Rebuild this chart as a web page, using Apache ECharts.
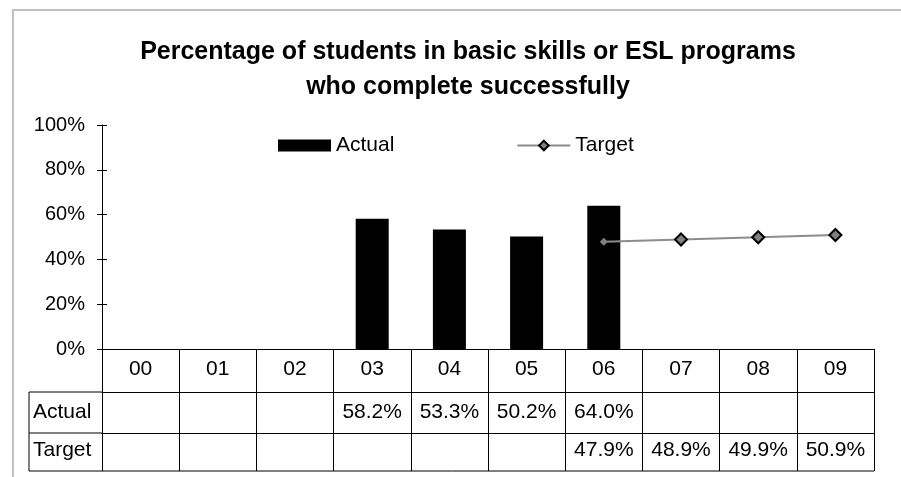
<!DOCTYPE html>
<html>
<head>
<meta charset="utf-8">
<script src="https://cdn.jsdelivr.net/npm/echarts@6/dist/echarts.min.js"></script>
<style>
  html, body { margin: 0; padding: 0; background: #fff; }
  #main { width: 901px; height: 477px; }
</style>
</head>
<body>
<div id="main"></div>
<script>
// data
var categories = ['00', '01', '02', '03', '04', '05', '06', '07', '08', '09'];
var actualValues = [null, null, null, 58.2, 53.3, 50.2, 64.0, null, null, null];
var targetValues = [null, null, null, null, null, null, 47.9, 48.9, 49.9, 50.9];
var rowNames = ['Actual', 'Target'];

var FONT = "'Liberation Sans', Arial, sans-serif";

// layout of the table under the plot
var axisY = 349;      // y of the 0% line
var row1Y = 392;      // top of Actual row
var row2Y = 433;      // top of Target row
var tableBottom = 471;
var headLeft = 29;
var plotLeft = 102;
var plotRight = 874;

function fmt(v){
    return v == null ? '' : v.toFixed(1) + '%';
}

// first target point is drawn small and without border
var targetData = targetValues.map(function(v, i){
    if (v == null) return null;
    if (i == 6) {
        return {value: v, symbolSize: 8, itemStyle: {borderWidth: 0, color: '#808080'}};
    }
    return v;
});

// one table row = one extra category axis pushed down with offset
function tableAxis(offset, rowHeight, margin, values){
    return {
        type: 'category',
        data: categories,
        position: 'bottom',
        offset: offset,
        axisLine: {show: true, onZero: false, lineStyle: {color: '#000', width: 1}},
        axisTick: {show: true, length: rowHeight, interval: 0, lineStyle: {color: '#000'}},
        axisLabel: {
            interval: 0, margin: margin, fontFamily: FONT, fontSize: 21, color: '#000',
            formatter: function(value, index){
                return values ? fmt(values[index]) : value;
            }
        }
    };
}

var myChart = echarts.init(document.getElementById('main'));

var option = {
    animation: false,
    backgroundColor: '#fff',
    title: {
        text: 'Percentage of students in basic skills or ESL programs\nwho complete successfully',
        left: 463,
        top: 30,
        textAlign: 'center',
        textStyle: {
            fontFamily: FONT,
            fontSize: 25,
            fontWeight: 'bold',
            color: '#000',
            lineHeight: 35
        }
    },
    legend: {
        left: 273,
        top: 130,
        itemWidth: 53,
        itemHeight: 12,
        itemGap: 122,
        textStyle: {fontFamily: FONT, fontSize: 21, color: '#000'},
        data: [
            {name: 'Actual', icon: 'rect'},
            {name: 'Target'}
        ]
    },
    grid: {
        left: plotLeft,
        right: 901 - plotRight,
        top: 125,
        bottom: 477 - axisY,
        containLabel: false
    },
    xAxis: [
        tableAxis(0, row1Y - axisY, 10, null),
        tableAxis(row1Y - axisY, row2Y - row1Y, 10, actualValues),
        tableAxis(row2Y - axisY, tableBottom - row2Y, 7, targetValues)
    ],
    yAxis: [{
        type: 'value',
        min: 0,
        max: 100,
        interval: 20,
        axisLine: {show: true, lineStyle: {color: '#000', width: 1}},
        axisTick: {show: true, length: 5, lineStyle: {color: '#000'}},
        axisLabel: {margin: 17, fontFamily: FONT, fontSize: 20, color: '#000', formatter: '{value}%'},
        splitLine: {show: false}
    }, {
        // inner half of the crossing ticks
        type: 'value',
        min: 0,
        max: 100,
        interval: 20,
        position: 'left',
        axisLine: {show: false},
        axisTick: {show: true, inside: true, length: 5, lineStyle: {color: '#000'}},
        axisLabel: {show: false},
        splitLine: {show: false}
    }],
    series: [{
        name: 'Actual',
        type: 'bar',
        data: actualValues,
        barWidth: 33,
        itemStyle: {color: '#000'}
    }, {
        name: 'Target',
        type: 'line',
        data: targetData,
        symbol: 'diamond',
        symbolSize: 12,
        showAllSymbol: true,
        lineStyle: {color: '#8c8c8c', width: 2},
        itemStyle: {color: '#808080', borderColor: '#000', borderWidth: 2}
    }],
    graphic: [
        // chart frame
        {type: 'rect', shape: {x: 13, y: 10, width: 920, height: 500},
         style: {fill: null, stroke: '#c0c0c0', lineWidth: 2}, silent: true},
        // row header column of the table
        {type: 'line', shape: {x1: headLeft, y1: row1Y, x2: plotLeft, y2: row1Y}, style: {stroke: '#000', lineWidth: 1}},
        {type: 'line', shape: {x1: headLeft, y1: row2Y, x2: plotLeft, y2: row2Y}, style: {stroke: '#000', lineWidth: 1}},
        {type: 'line', shape: {x1: headLeft, y1: tableBottom, x2: plotRight, y2: tableBottom}, style: {stroke: '#000', lineWidth: 1}},
        {type: 'line', shape: {x1: headLeft, y1: row1Y, x2: headLeft, y2: tableBottom}, style: {stroke: '#000', lineWidth: 1}},
        {type: 'text', left: 33, top: 402,
         style: {text: rowNames[0], font: '21px ' + FONT, fill: '#000'}},
        {type: 'text', left: 33, top: 440,
         style: {text: rowNames[1], font: '21px ' + FONT, fill: '#000'}}
    ]
};

myChart.setOption(option);
</script>
</body>
</html>
